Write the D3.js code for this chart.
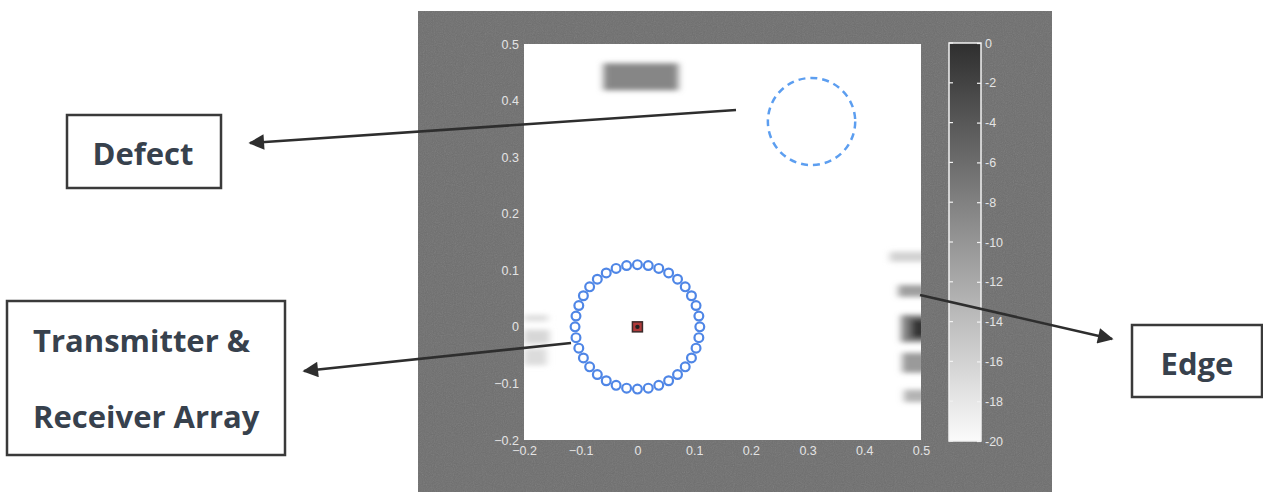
<!DOCTYPE html>
<html>
<head>
<meta charset="utf-8">
<script src="https://cdn.jsdelivr.net/npm/d3@7"></script>
<style>
  body { margin: 0; background: #fff; }
  svg { display: block; }
</style>
</head>
<body>
<div id="chart"></div>
<script>
// axis ticks
var xTicks = [-0.2, -0.1, 0, 0.1, 0.2, 0.3, 0.4, 0.5];
var yTicks = [-0.2, -0.1, 0, 0.1, 0.2, 0.3, 0.4, 0.5];
var cbTicks = [0, -2, -4, -6, -8, -10, -12, -14, -16, -18, -20];

// image hot spots (x/y in m, level in dB)
var spotX0 = [-0.060, 0.445, 0.460, 0.465, 0.482, 0.467, 0.470, -0.2, -0.2, -0.2];
var spotX1 = [0.072, 0.5, 0.5, 0.5, 0.5, 0.5, 0.5, -0.158, -0.155, -0.160];
var spotY0 = [0.418, 0.115, 0.053, -0.027, -0.020, -0.081, -0.133, 0.010, -0.030, -0.068];
var spotY1 = [0.466, 0.133, 0.074, 0.021, 0.014, -0.046, -0.111, 0.021, -0.005, -0.038];
var spotDb = [-8.5, -16, -11, -8, -0.5, -10.5, -13, -17, -16.5, -17];

// transducer ring (angles in degrees), radius in m
var ringAngles = [0, 10, 20, 30, 40, 50, 60, 70, 80, 90, 100, 110, 120, 130, 140, 150, 160, 170,
                  180, 190, 200, 210, 220, 230, 240, 250, 260, 270, 280, 290, 300, 310, 320, 330, 340, 350];
var ringRadius = 0.11;
var source = [0, 0];

// defect marker
var defect = { x: 0.307, y: 0.363, r: 0.077 };

var width = 1263, height = 493;

var svg = d3.select("#chart")
  .append("svg")
  .attr("width", width)
  .attr("height", height);

var defs = svg.append("defs");

// scan noise
var noise = defs.append("filter").attr("id", "noise").attr("x", 0).attr("y", 0).attr("width", "100%").attr("height", "100%");
noise.append("feTurbulence").attr("type", "fractalNoise").attr("baseFrequency", 0.9).attr("numOctaves", 2).attr("seed", 3);
noise.append("feColorMatrix").attr("type", "saturate").attr("values", 0);

var blur = defs.append("filter").attr("id", "blur").attr("x", "-30%").attr("y", "-80%").attr("width", "160%").attr("height", "260%");
blur.append("feGaussianBlur").attr("stdDeviation", "3.5 2.6");

defs.append("clipPath").attr("id", "plotClip")
  .append("rect").attr("x", 524).attr("y", 44).attr("width", 397).attr("height", 396);

defs.append("marker")
  .attr("id", "arrow")
  .attr("viewBox", "0 0 10 10")
  .attr("refX", 9).attr("refY", 5)
  .attr("markerWidth", 7).attr("markerHeight", 6)
  .attr("markerUnits", "strokeWidth")
  .attr("orient", "auto")
  .append("path")
  .attr("d", "M0,0 L10,5 L0,10 Z")
  .attr("fill", "#2e2e2e");

// grey figure panel
svg.append("rect")
  .attr("x", 418).attr("y", 11)
  .attr("width", 634).attr("height", 481)
  .attr("fill", "#6e6e6e");
svg.append("rect")
  .attr("x", 418).attr("y", 11)
  .attr("width", 634).attr("height", 481)
  .attr("filter", "url(#noise)")
  .attr("opacity", 0.18);

var x = d3.scaleLinear().domain([-0.2, 0.5]).range([524, 921]);
var y = d3.scaleLinear().domain([-0.2, 0.5]).range([440, 44]);
var color = d3.scaleLinear().domain([-20, 0]).range(["#fbfbfb", "#2f2f2f"]);

// image area
svg.append("rect")
  .attr("x", x(-0.2)).attr("y", y(0.5))
  .attr("width", x(0.5) - x(-0.2)).attr("height", y(-0.2) - y(0.5))
  .attr("fill", "#ffffff");

var spots = spotDb.map(function(d, i) {
  return { x0: spotX0[i], x1: spotX1[i], y0: spotY0[i], y1: spotY1[i], db: d };
});

svg.append("g")
  .attr("clip-path", "url(#plotClip)")
  .append("g")
  .attr("filter", "url(#blur)")
  .selectAll("rect")
  .data(spots)
  .enter()
  .append("rect")
  .attr("x", function(d) { return x(d.x0); })
  .attr("y", function(d) { return y(d.y1); })
  .attr("width", function(d) { return x(d.x1) - x(d.x0) + (d.x1 >= 0.5 ? 8 : 0); })
  .attr("height", function(d) { return y(d.y0) - y(d.y1); })
  .attr("fill", function(d) { return color(d.db); });

// axes (white labels, MATLAB style)
var xAxis = svg.append("g")
  .attr("transform", "translate(0,440)")
  .call(d3.axisBottom(x).tickValues(xTicks).tickSize(0).tickPadding(6).tickFormat(d3.format("")));
var yAxis = svg.append("g")
  .attr("transform", "translate(524,0)")
  .call(d3.axisLeft(y).tickValues(yTicks).tickSize(0).tickPadding(5).tickFormat(d3.format("")));

[xAxis, yAxis].forEach(function(a) {
  a.select(".domain").remove();
  a.selectAll("text")
    .attr("fill", "#e4e4e4")
    .style("font-family", "Liberation Sans, Arial, sans-serif")
    .style("font-size", "12.5px");
});
xAxis.selectAll("text").text(function(d) { return d === 0 ? "0" : d3.format(".1f")(d); });
yAxis.selectAll("text").text(function(d) { return d === 0 ? "0" : d3.format(".1f")(d); });

// transducer ring
svg.append("g")
  .selectAll("circle")
  .data(ringAngles)
  .enter()
  .append("circle")
  .attr("cx", function(d) { return x(ringRadius * Math.cos(d * Math.PI / 180)); })
  .attr("cy", function(d) { return y(ringRadius * Math.sin(d * Math.PI / 180)); })
  .attr("r", 4.4)
  .attr("fill", "none")
  .attr("stroke", "#4f86e6")
  .attr("stroke-width", 2.2);

// source marker
svg.append("rect")
  .attr("x", x(source[0]) - 5).attr("y", y(source[1]) - 5)
  .attr("width", 10).attr("height", 10)
  .attr("fill", "#b03a3a")
  .attr("stroke", "#3a2a2a")
  .attr("stroke-width", 1.5);
svg.append("circle")
  .attr("cx", x(source[0])).attr("cy", y(source[1]))
  .attr("r", 2.2)
  .attr("fill", "#222");

// defect dashed circle
svg.append("ellipse")
  .attr("cx", x(defect.x)).attr("cy", y(defect.y))
  .attr("rx", x(defect.x + defect.r) - x(defect.x))
  .attr("ry", y(defect.y - defect.r) - y(defect.y))
  .attr("fill", "none")
  .attr("stroke", "#5c9ef0")
  .attr("stroke-width", 2.5)
  .attr("stroke-dasharray", "7 5");

// colorbar
var cb = d3.scaleLinear().domain([-20, 0]).range([441, 43]);
var grad = defs.append("linearGradient")
  .attr("id", "cbGrad")
  .attr("x1", 0).attr("y1", 1).attr("x2", 0).attr("y2", 0);
cbTicks.slice().reverse().forEach(function(t) {
  grad.append("stop")
    .attr("offset", (t + 20) / 20)
    .attr("stop-color", color(t));
});

svg.append("rect")
  .attr("x", 949).attr("y", cb(0))
  .attr("width", 32).attr("height", cb(-20) - cb(0))
  .attr("fill", "url(#cbGrad)")
  .attr("stroke", "#f2f2f2")
  .attr("stroke-width", 1.5);

var cbAxis = svg.append("g")
  .attr("transform", "translate(981,0)")
  .call(d3.axisRight(cb).tickValues(cbTicks).tickSize(-4).tickPadding(4).tickFormat(d3.format("d")));
cbAxis.select(".domain").remove();
cbAxis.selectAll("line").attr("stroke", "#f2f2f2").attr("stroke-width", 1.2);
cbAxis.selectAll("text")
  .attr("fill", "#e4e4e4")
  .style("font-family", "Liberation Sans, Arial, sans-serif")
  .style("font-size", "12.5px")
  .text(function(d) { return d === 0 ? "0" : "-" + Math.abs(d); });

svg.append("g")
  .selectAll("line")
  .data(cbTicks)
  .enter()
  .append("line")
  .attr("x1", 949).attr("x2", 953)
  .attr("y1", function(d) { return cb(d); })
  .attr("y2", function(d) { return cb(d); })
  .attr("stroke", "#f2f2f2")
  .attr("stroke-width", 1.2);

// annotation arrows
var arrows = [
  { x1: 736, y1: 110, x2: 250, y2: 143 },
  { x1: 571, y1: 343, x2: 304, y2: 371 },
  { x1: 920, y1: 295, x2: 1112, y2: 339 }
];
svg.append("g")
  .selectAll("line")
  .data(arrows)
  .enter()
  .append("line")
  .attr("x1", function(d) { return d.x1; })
  .attr("y1", function(d) { return d.y1; })
  .attr("x2", function(d) { return d.x2; })
  .attr("y2", function(d) { return d.y2; })
  .attr("stroke", "#2e2e2e")
  .attr("stroke-width", 2.6)
  .attr("marker-end", "url(#arrow)");

// annotation boxes
var boxes = [
  { x: 67, y: 115, w: 154, h: 73 },
  { x: 7, y: 301, w: 278, h: 154 },
  { x: 1132, y: 325, w: 130, h: 72 }
];
svg.append("g")
  .selectAll("rect")
  .data(boxes)
  .enter()
  .append("rect")
  .attr("x", function(d) { return d.x; })
  .attr("y", function(d) { return d.y; })
  .attr("width", function(d) { return d.w; })
  .attr("height", function(d) { return d.h; })
  .attr("fill", "#fff")
  .attr("stroke", "#3a3a3a")
  .attr("stroke-width", 2.5);

var labels = [
  { text: "Defect", x: 143, y: 165, anchor: "middle" },
  { text: "Transmitter &", x: 33, y: 352, anchor: "start" },
  { text: "Receiver Array", x: 33, y: 428, anchor: "start" },
  { text: "Edge", x: 1197, y: 375, anchor: "middle" }
];
svg.append("g")
  .selectAll("text")
  .data(labels)
  .enter()
  .append("text")
  .attr("x", function(d) { return d.x; })
  .attr("y", function(d) { return d.y; })
  .attr("text-anchor", function(d) { return d.anchor; })
  .attr("fill", "#37414d")
  .style("font-family", "Open Sans, sans-serif")
  .style("font-weight", "bold")
  .style("font-size", "31px")
  .text(function(d) { return d.text; });
</script>
</body>
</html>
